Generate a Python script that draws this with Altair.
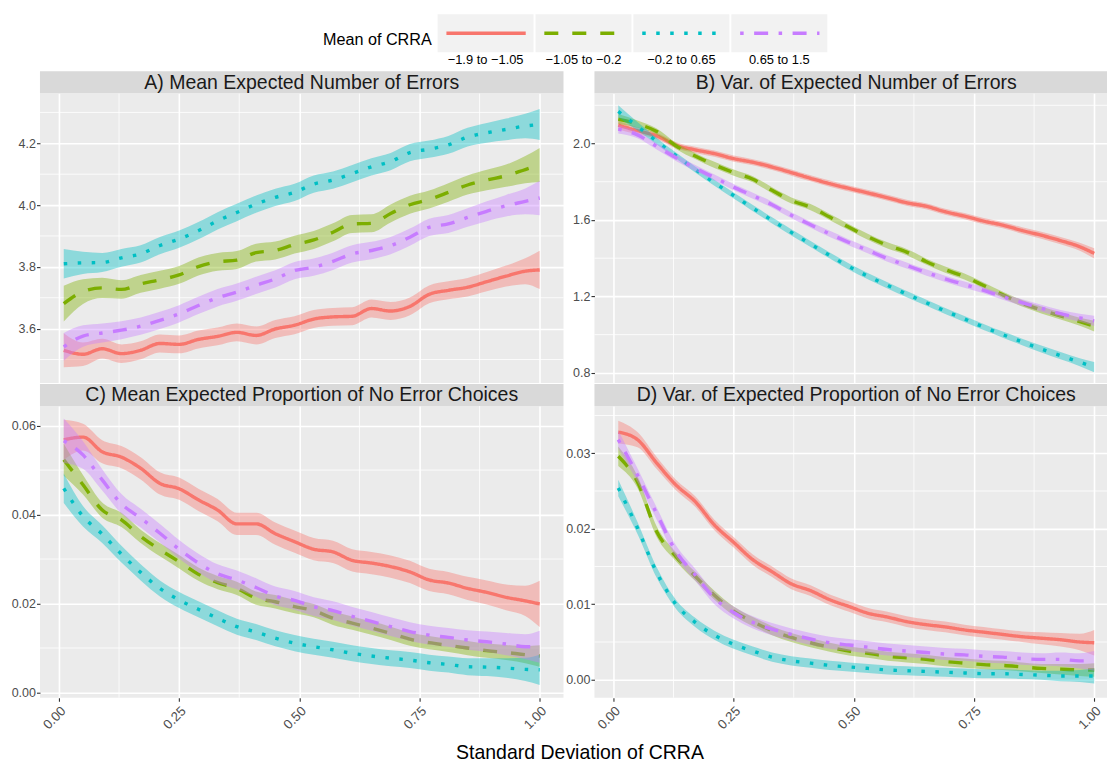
import altair as alt
import pandas as pd

FONT = "Liberation Sans"

# ---------------- data ----------------
X = [0.01, 0.05, 0.09, 0.13, 0.17, 0.21, 0.25, 0.29, 0.33, 0.37, 0.41, 0.45, 0.49,
     0.53, 0.57, 0.61, 0.65, 0.69, 0.73, 0.77, 0.81, 0.85, 0.89, 0.93, 0.97, 1.00]

GROUPS = ["\u22121.9 to \u22121.05", "\u22121.05 to \u22120.2", "\u22120.2 to 0.65", "0.65 to 1.5"]
COLORS = ["#F8766D", "#7CAE00", "#00BFC4", "#C77CFF"]
DASHES = [[1, 0], [14, 14], [3.5, 10.5], [3.5, 10.5, 14, 10.5]]

LEGEND_TITLE = "Mean of CRRA"
X_TITLE = "Standard Deviation of CRRA"
X_BREAKS = [0, 0.25, 0.5, 0.75, 1.0]
X_MINOR = [0.125, 0.375, 0.625, 0.875]

# Panel A
A_red = [3.530, 3.517, 3.535, 3.519, 3.530, 3.552, 3.549, 3.565, 3.575, 3.588, 3.578, 3.599, 3.611,
         3.631, 3.638, 3.640, 3.665, 3.657, 3.672, 3.711, 3.724, 3.734, 3.752, 3.770, 3.786, 3.790]
A_green = [3.681, 3.720, 3.732, 3.727, 3.745, 3.758, 3.774, 3.801, 3.816, 3.822, 3.846, 3.853, 3.872,
           3.887, 3.912, 3.939, 3.941, 3.973, 4.001, 4.018, 4.041, 4.065, 4.081, 4.095, 4.115, 4.130]
A_cyan = [3.810, 3.813, 3.814, 3.829, 3.842, 3.869, 3.890, 3.917, 3.949, 3.976, 4.003, 4.025, 4.041,
          4.068, 4.081, 4.102, 4.124, 4.141, 4.170, 4.181, 4.195, 4.220, 4.234, 4.245, 4.256, 4.261]
A_purple = [3.541, 3.576, 3.586, 3.595, 3.608, 3.627, 3.648, 3.675, 3.700, 3.718, 3.740, 3.761, 3.788,
            3.799, 3.818, 3.842, 3.853, 3.869, 3.896, 3.928, 3.939, 3.960, 3.980, 3.998, 4.012, 4.023]
A_red_se = [0.055, 0.038, 0.032, 0.030, 0.029, 0.029, 0.029, 0.029, 0.029, 0.029, 0.029, 0.029, 0.029,
            0.029, 0.029, 0.029, 0.029, 0.029, 0.029, 0.029, 0.029, 0.030, 0.031, 0.034, 0.042, 0.062]
A_green_se = [0.058, 0.040, 0.033, 0.030, 0.029, 0.029, 0.029, 0.029, 0.029, 0.029, 0.029, 0.029, 0.029,
              0.029, 0.029, 0.029, 0.029, 0.029, 0.029, 0.029, 0.030, 0.031, 0.033, 0.036, 0.044, 0.055]
A_cyan_se = [0.048, 0.036, 0.031, 0.029, 0.028, 0.028, 0.028, 0.028, 0.028, 0.028, 0.028, 0.028, 0.028,
             0.028, 0.028, 0.028, 0.028, 0.028, 0.028, 0.028, 0.029, 0.030, 0.032, 0.035, 0.040, 0.050]
A_purple_se = [0.045, 0.035, 0.031, 0.029, 0.028, 0.028, 0.028, 0.028, 0.028, 0.028, 0.028, 0.028, 0.028,
               0.028, 0.028, 0.028, 0.028, 0.028, 0.028, 0.028, 0.029, 0.030, 0.032, 0.035, 0.042, 0.056]

# Panel B
B_red = [2.096, 2.067, 2.040, 1.991, 1.967, 1.947, 1.921, 1.902, 1.877, 1.848, 1.818, 1.790, 1.765,
         1.741, 1.716, 1.690, 1.672, 1.643, 1.620, 1.594, 1.573, 1.545, 1.520, 1.492, 1.460, 1.425]
B_green = [2.128, 2.102, 2.063, 1.988, 1.935, 1.888, 1.848, 1.813, 1.755, 1.702, 1.667, 1.615, 1.562,
           1.511, 1.467, 1.432, 1.383, 1.340, 1.304, 1.257, 1.208, 1.164, 1.129, 1.098, 1.068, 1.045]
B_cyan = [2.168, 2.090, 2.012, 1.937, 1.864, 1.795, 1.728, 1.662, 1.598, 1.535, 1.474, 1.414, 1.356,
          1.305, 1.258, 1.212, 1.168, 1.124, 1.082, 1.040, 1.000, 0.962, 0.925, 0.890, 0.856, 0.830]
B_purple = [2.075, 2.045, 1.985, 1.925, 1.872, 1.822, 1.772, 1.727, 1.680, 1.625, 1.575, 1.527, 1.482,
            1.440, 1.398, 1.362, 1.326, 1.292, 1.262, 1.232, 1.198, 1.168, 1.138, 1.110, 1.088, 1.072]
B_red_se = [0.022, 0.018, 0.016, 0.016, 0.016, 0.016, 0.016, 0.016, 0.016, 0.016, 0.016, 0.016, 0.016,
            0.016, 0.016, 0.016, 0.016, 0.016, 0.016, 0.016, 0.016, 0.017, 0.018, 0.019, 0.021, 0.027]
B_green_se = [0.026, 0.019, 0.016, 0.016, 0.016, 0.016, 0.016, 0.016, 0.016, 0.016, 0.016, 0.016, 0.016,
              0.016, 0.016, 0.016, 0.016, 0.016, 0.016, 0.016, 0.016, 0.017, 0.018, 0.019, 0.021, 0.028]
B_cyan_se = [0.032, 0.022, 0.017, 0.016, 0.016, 0.016, 0.016, 0.016, 0.016, 0.016, 0.016, 0.016, 0.016,
             0.016, 0.016, 0.016, 0.016, 0.016, 0.016, 0.016, 0.016, 0.017, 0.018, 0.019, 0.021, 0.027]
B_purple_se = [0.022, 0.017, 0.016, 0.016, 0.016, 0.016, 0.016, 0.016, 0.016, 0.016, 0.016, 0.016, 0.016,
               0.016, 0.016, 0.016, 0.016, 0.016, 0.016, 0.016, 0.016, 0.017, 0.018, 0.019, 0.021, 0.027]

# Panel C
C_red = [0.0568, 0.0574, 0.0541, 0.0529, 0.0504, 0.0470, 0.0458, 0.0433, 0.0410, 0.0379, 0.0379, 0.0357, 0.0339,
         0.0322, 0.0316, 0.0297, 0.0291, 0.0283, 0.0271, 0.0253, 0.0246, 0.0234, 0.0225, 0.0214, 0.0206, 0.0199]
C_green = [0.0523, 0.0467, 0.0410, 0.0388, 0.0351, 0.0321, 0.0294, 0.0266, 0.0247, 0.0234, 0.0212, 0.0204, 0.0193,
           0.0184, 0.0167, 0.0156, 0.0145, 0.0133, 0.0120, 0.0112, 0.0106, 0.0100, 0.0094, 0.0090, 0.0085, 0.0082]
C_cyan = [0.0459, 0.0396, 0.0356, 0.0311, 0.0270, 0.0234, 0.0208, 0.0187, 0.0167, 0.0148, 0.0136, 0.0122, 0.0111,
          0.0103, 0.0096, 0.0088, 0.0082, 0.0077, 0.0073, 0.0067, 0.0063, 0.0058, 0.0057, 0.0055, 0.0052, 0.0051]
C_purple = [0.0566, 0.0534, 0.0478, 0.0424, 0.0392, 0.0358, 0.0322, 0.0291, 0.0267, 0.0253, 0.0236, 0.0217, 0.0207,
            0.0193, 0.0184, 0.0171, 0.0160, 0.0148, 0.0137, 0.0129, 0.0124, 0.0118, 0.0114, 0.0109, 0.0103, 0.0103]
C_red_se = [0.0045, 0.0030, 0.0026, 0.0025, 0.0025, 0.0025, 0.0025, 0.0025, 0.0025, 0.0025, 0.0025, 0.0025, 0.0025,
            0.0025, 0.0025, 0.0025, 0.0025, 0.0025, 0.0025, 0.0025, 0.0025, 0.0026, 0.0027, 0.0029, 0.0034, 0.0052]
C_green_se = [0.0036, 0.0022, 0.0017, 0.0016, 0.0015, 0.0015, 0.0015, 0.0015, 0.0015, 0.0015, 0.0015, 0.0015, 0.0015,
              0.0015, 0.0015, 0.0015, 0.0015, 0.0015, 0.0015, 0.0015, 0.0015, 0.0016, 0.0016, 0.0017, 0.0019, 0.0024]
C_cyan_se = [0.0033, 0.0023, 0.0020, 0.0019, 0.0018, 0.0018, 0.0018, 0.0018, 0.0018, 0.0018, 0.0018, 0.0018, 0.0018,
             0.0018, 0.0018, 0.0018, 0.0018, 0.0018, 0.0018, 0.0018, 0.0018, 0.0019, 0.0020, 0.0022, 0.0026, 0.0034]
C_purple_se = [0.0050, 0.0031, 0.0024, 0.0022, 0.0021, 0.0021, 0.0021, 0.0021, 0.0021, 0.0021, 0.0021, 0.0021, 0.0021,
               0.0021, 0.0021, 0.0021, 0.0021, 0.0021, 0.0021, 0.0021, 0.0021, 0.0022, 0.0023, 0.0025, 0.0028, 0.0036]

# Panel D
D_red = [0.0328, 0.0318, 0.0287, 0.0258, 0.0236, 0.0205, 0.0182, 0.0159, 0.0143, 0.0127, 0.0118, 0.0106, 0.0097,
         0.0088, 0.0083, 0.0077, 0.0073, 0.0070, 0.0066, 0.0063, 0.0060, 0.0057, 0.0055, 0.0053, 0.0050, 0.0049]
D_green = [0.0296, 0.0262, 0.0196, 0.0163, 0.0137, 0.0112, 0.0091, 0.0077, 0.0065, 0.0056, 0.0049, 0.0043, 0.0038,
           0.0035, 0.0031, 0.0029, 0.0027, 0.0024, 0.0022, 0.0020, 0.0019, 0.0017, 0.0015, 0.0014, 0.0013, 0.0013]
D_cyan = [0.0254, 0.0201, 0.0142, 0.0100, 0.0076, 0.0059, 0.0047, 0.0038, 0.0030, 0.0025, 0.0022, 0.0019, 0.0017,
          0.0015, 0.0013, 0.0012, 0.0011, 0.0010, 0.0009, 0.0008, 0.0008, 0.0007, 0.0006, 0.0005, 0.0005, 0.0005]
D_purple = [0.0318, 0.0271, 0.0220, 0.0170, 0.0139, 0.0108, 0.0089, 0.0076, 0.0067, 0.0060, 0.0054, 0.0049, 0.0046,
            0.0043, 0.0040, 0.0038, 0.0036, 0.0034, 0.0033, 0.0031, 0.0030, 0.0028, 0.0027, 0.0027, 0.0025, 0.0025]
D_red_se = [0.0015, 0.0010, 0.0008, 0.0007, 0.0007, 0.0007, 0.0007, 0.0007, 0.0007, 0.0007, 0.0007, 0.0007, 0.0007,
            0.0007, 0.0007, 0.0007, 0.0007, 0.0007, 0.0007, 0.0007, 0.0007, 0.0007, 0.0008, 0.0009, 0.0011, 0.0017]
D_green_se = [0.0013, 0.0008, 0.0007, 0.0006, 0.0006, 0.0006, 0.0006, 0.0006, 0.0006, 0.0006, 0.0006, 0.0006, 0.0006,
              0.0006, 0.0006, 0.0006, 0.0006, 0.0006, 0.0006, 0.0006, 0.0006, 0.0006, 0.0006, 0.0007, 0.0008, 0.0009]
D_cyan_se = [0.0011, 0.0008, 0.0007, 0.0006, 0.0006, 0.0006, 0.0006, 0.0006, 0.0006, 0.0006, 0.0006, 0.0006, 0.0006,
             0.0006, 0.0006, 0.0006, 0.0006, 0.0006, 0.0006, 0.0006, 0.0006, 0.0006, 0.0006, 0.0007, 0.0008, 0.0010]
D_purple_se = [0.0012, 0.0009, 0.0008, 0.0008, 0.0008, 0.0008, 0.0008, 0.0008, 0.0008, 0.0008, 0.0008, 0.0008, 0.0008,
               0.0008, 0.0008, 0.0008, 0.0008, 0.0008, 0.0008, 0.0008, 0.0008, 0.0008, 0.0008, 0.0009, 0.0010, 0.0013]

PANELS = [
    dict(title="A) Mean Expected Number of Errors",
         means=[A_red, A_green, A_cyan, A_purple], ses=[A_red_se, A_green_se, A_cyan_se, A_purple_se],
         ydom=[3.424, 4.362], yvals=[3.6, 3.8, 4.0, 4.2], yfmt=".1f", yminor=[3.5, 3.7, 3.9, 4.1, 4.3]),
    dict(title="B) Var. of Expected Number of Errors",
         means=[B_red, B_green, B_cyan, B_purple], ses=[B_red_se, B_green_se, B_cyan_se, B_purple_se],
         ydom=[0.747, 2.263], yvals=[0.8, 1.2, 1.6, 2.0], yfmt=".1f", yminor=[1.0, 1.4, 1.8, 2.2]),
    dict(title="C) Mean Expected Proportion of No Error Choices",
         means=[C_red, C_green, C_cyan, C_purple], ses=[C_red_se, C_green_se, C_cyan_se, C_purple_se],
         ydom=[-0.00117, 0.0644], yvals=[0.0, 0.02, 0.04, 0.06], yfmt=".2f", yminor=[0.01, 0.03, 0.05]),
    dict(title="D) Var. of Expected Proportion of No Error Choices",
         means=[D_red, D_green, D_cyan, D_purple], ses=[D_red_se, D_green_se, D_cyan_se, D_purple_se],
         ydom=[-0.00238, 0.03626], yvals=[0.0, 0.01, 0.02, 0.03], yfmt=".2f", yminor=[0.005, 0.015, 0.025, 0.035]),
]

# ---------------- layout constants ----------------
AXIS_W = 40           # room for the left y axis of the first column
FULL_W = 524          # width of a full panel
PX_PER_UNIT = FULL_W / 1.089
X_LO = -0.0395
WIDTHS = [524, 513, 524, 513]
HEIGHTS = [290, 290, 292, 292]
STRIP_H = 22

color_scale = alt.Scale(domain=GROUPS, range=COLORS)
dash_scale = alt.Scale(domain=GROUPS, range=DASHES)


def make_panel(idx):
    p = PANELS[idx]
    width, height = WIDTHS[idx], HEIGHTS[idx]
    bottom = idx >= 2
    rows = []
    for k, (m, s) in enumerate(zip(p["means"], p["ses"])):
        for xv, mv, sv in zip(X, m, s):
            rows.append({"k": k, "grp": GROUPS[k], "x": xv, "m": mv, "se": sv})
    df = pd.DataFrame(rows)

    xscale = alt.Scale(domain=[X_LO, X_LO + width / PX_PER_UNIT], nice=False, zero=False)
    yscale = alt.Scale(domain=p["ydom"], nice=False, zero=False)

    xkw = dict(values=X_BREAKS, domain=False, grid=True, gridColor="white", gridWidth=1.6)
    if bottom:
        xkw.update(format=".2f", labelAngle=315, labelAlign="right", labelBaseline="top",
                   labelFont=FONT, labelFontSize=13.2, labelColor="#4D4D4D", labelPadding=3,
                   ticks=True, tickColor="#333333", tickSize=3.5, tickWidth=1.1)
    else:
        xkw.update(labels=False, ticks=False)
    if idx == 2:
        xkw.update(title=X_TITLE, titleX=540, titleY=61, titleAlign="center",
                   titleBaseline="alphabetic", titleFont=FONT, titleFontSize=19.5,
                   titleFontWeight="normal", titleColor="black")
    else:
        xkw.update(title=None)
    xaxis = alt.Axis(**xkw)
    yaxis = alt.Axis(values=p["yvals"], format=p["yfmt"], domain=False, grid=True,
                     gridColor="white", gridWidth=1.6, ticks=True, tickColor="#333333",
                     tickSize=3.5, tickWidth=1.1, labelFont=FONT, labelFontSize=12.5,
                     labelColor="#4D4D4D", labelPadding=1, title=None, minExtent=AXIS_W)

    def XE(f):
        return alt.X(f, type="quantitative", scale=xscale, axis=xaxis)

    def YE(f):
        return alt.Y(f, type="quantitative", scale=yscale, axis=yaxis)

    layers = []
    layers.append(alt.Chart(pd.DataFrame({"v": X_MINOR})).mark_rule(color="white", strokeWidth=0.8)
                  .encode(x=XE("v")))
    layers.append(alt.Chart(pd.DataFrame({"v": p["yminor"]})).mark_rule(color="white", strokeWidth=0.8)
                  .encode(y=YE("v")))

    base = alt.Chart(df).transform_calculate(lo="datum.m - datum.se", hi="datum.m + datum.se")
    for k in range(len(GROUPS)):
        b = base.transform_filter(alt.datum.k == k)
        layers.append(b.mark_area(opacity=0.4, interpolate="monotone").encode(
            x=XE("x"), y=YE("lo"), y2="hi:Q",
            color=alt.Color("grp:N", scale=color_scale, legend=None)))
        layers.append(b.mark_line(strokeWidth=3.4, interpolate="monotone", strokeCap="butt").encode(
            x=XE("x"), y=YE("m"),
            color=alt.Color("grp:N", scale=color_scale, legend=None),
            strokeDash=alt.StrokeDash("grp:N", scale=dash_scale, legend=None)))

    sdf = pd.DataFrame({"t": [p["title"]]})
    layers.append(alt.Chart(sdf).mark_rect(color="#D9D9D9").encode(
        x=alt.value(0), x2=alt.value(width), y=alt.value(-STRIP_H), y2=alt.value(0)))
    layers.append(alt.Chart(sdf).mark_text(font=FONT, fontSize=19.5, color="#1A1A1A",
                                           align="center", baseline="middle").encode(
        x=alt.value(FULL_W / 2), y=alt.value(-STRIP_H / 2 + 0.5), text="t:N"))

    return alt.layer(*layers).properties(
        width=width, height=height,
        view=alt.ViewBackground(fill="#EBEBEB", stroke=None))


panels = [make_panel(i) for i in range(4)]
grid = alt.concat(*panels, columns=2, spacing={"row": 23, "column": 31}, bounds="flush")

# ---------------- custom legend (ggplot style) ----------------
# the legend view shares its left origin with the first panel (x = AXIS_W on the page)
LEG_W, LEG_H = 1108 - AXIS_W, 71
KEY_LEFT, KEY_STEP = 438 - AXIS_W, 98
leg_scale = alt.Scale(domain=[-KEY_LEFT / KEY_STEP, (LEG_W - KEY_LEFT) / KEY_STEP], nice=False, zero=False)
leg_df = pd.DataFrame({"k": list(range(len(GROUPS))), "grp": GROUPS})
lbase = alt.Chart(leg_df).transform_calculate(
    x0="datum.k", x1="datum.k + 0.98", l0="datum.k + 0.09", l1="datum.k + 0.9", c="datum.k + 0.49")
keys = lbase.mark_rect(color="#F2F2F2").encode(
    x=alt.X("x0:Q", scale=leg_scale, axis=None), x2="x1:Q", y=alt.value(14), y2=alt.value(52))
klines = lbase.mark_rule(strokeWidth=3.5, strokeCap="butt").encode(
    x=alt.X("l0:Q", scale=leg_scale, axis=None), x2="l1:Q", y=alt.value(33),
    color=alt.Color("grp:N", scale=color_scale, legend=None),
    strokeDash=alt.StrokeDash("grp:N", scale=dash_scale, legend=None))
klabels = lbase.mark_text(font=FONT, fontSize=12.9, color="black", baseline="middle", align="center").encode(
    x=alt.X("c:Q", scale=leg_scale, axis=None), y=alt.value(59.5), text="grp:N")
ltitle = alt.Chart(pd.DataFrame({"t": [LEGEND_TITLE]})).transform_calculate(pos="-0.06").mark_text(
    font=FONT, fontSize=16.2, color="black", align="right", baseline="middle").encode(
    x=alt.X("pos:Q", scale=leg_scale, axis=None), y=alt.value(39.5), text="t:N")
legend = alt.layer(keys, klines, klabels, ltitle).properties(
    width=LEG_W, height=LEG_H, view=alt.ViewBackground(fill="white", stroke=None))

chart = alt.vconcat(legend, grid, spacing=0).properties(
    padding=0, background="white"
).configure_view(stroke=None)

chart.save("out.html", embed_options={"renderer": "svg", "actions": False})
